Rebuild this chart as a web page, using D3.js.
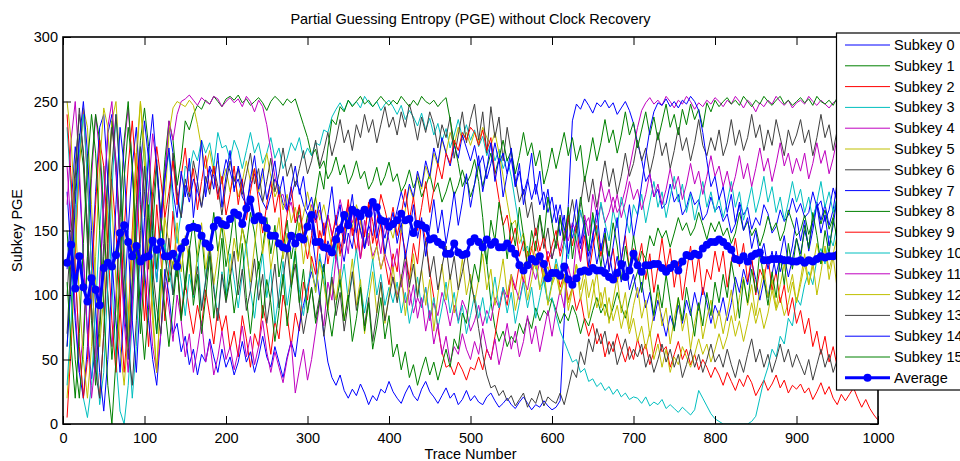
<!DOCTYPE html>
<html><head><meta charset="utf-8">
<script src="https://cdn.jsdelivr.net/npm/d3@7"></script>
<style>
html,body{margin:0;padding:0;background:#fff;}
svg{display:block;font-family:"Liberation Sans",Arial,Helvetica,sans-serif;}
</style></head><body>
<svg id="chart" width="960" height="461"></svg>
<script>
const titleText = "Partial Guessing Entropy (PGE) without Clock Recovery";
const xLabel = "Trace Number";
const yLabel = "Subkey PGE";
const xTicks = [0,100,200,300,400,500,600,700,800,900,1000];
const yTicks = [0,50,100,150,200,250,300];
const seriesNames = ["Subkey 0","Subkey 1","Subkey 2","Subkey 3","Subkey 4","Subkey 5","Subkey 6","Subkey 7","Subkey 8","Subkey 9","Subkey 10","Subkey 11","Subkey 12","Subkey 13","Subkey 14","Subkey 15"];
const seriesColors = ["#0000ff","#008000","#ff0000","#00bfbf","#bf00bf","#bfbf00","#404040","#0000ff","#008000","#ff0000","#00bfbf","#bf00bf","#bfbf00","#404040","#0000ff","#008000"];
const traceStep = 5;

const subkey0 = [120,170,215,190,130,70,35,60,110,170,225,240,195,140,90,50,95,150,200,235,
205,150,110,150,195,230,210,175,160,185,172,190,181,168,186,200,192,178,189,205,
196,183,190,176,170,185,194,180,172,166,178,190,184,171,165,176,188,182,170,162,
150,125,98,70,48,36,30,38,26,20,27,22,31,24,15,22,18,27,24,33,
25,20,16,24,30,22,18,27,33,25,21,16,22,28,20,24,15,19,26,18,
22,17,15,21,24,18,13,16,20,15,12,17,21,16,11,15,13,18,14,11,
13,18,80,170,235,248,244,252,247,241,249,246,251,245,249,240,245,250,243,233,
218,205,188,194,176,182,167,171,186,172,178,162,168,180,170,174,158,163,176,165,
169,157,163,148,155,172,162,168,151,160,154,170,163,148,153,166,157,162,175,164,
171,160,164,180,168,173,157,166,183,172,178,163,168,181,170,174,158,164,177,171];
const subkey1 = [60,120,180,225,200,140,80,30,70,130,190,235,205,150,100,60,110,170,220,245,
215,165,120,160,205,235,220,185,205,235,228,240,247,244,251,248,254,250,246,252,
254,251,255,249,252,247,250,253,249,243,250,254,251,247,252,249,252,242,232,222,
208,213,198,204,190,196,207,193,201,186,193,204,190,196,182,188,199,185,192,203,
188,194,180,186,197,183,191,176,184,194,180,187,172,180,191,177,185,197,186,193,
205,188,160,125,95,75,64,72,60,68,63,78,70,82,74,90,80,88,84,97,
88,78,86,80,92,84,70,82,76,88,98,86,93,81,90,102,91,82,96,108,
118,134,128,146,138,152,144,150,137,148,160,150,156,146,152,164,154,143,156,149,
157,146,152,140,148,164,150,157,146,152,138,148,161,150,156,142,150,166,156,146,
150,162,147,158,170,155,166,151,160,176,162,168,155,163,148,158,171,156,163,157];
const subkey2 = [5,60,130,200,245,190,120,60,20,70,140,190,150,90,40,80,150,210,170,110,
60,110,170,130,80,120,165,125,85,110,88,70,92,76,104,84,62,90,72,84,
58,72,52,84,66,44,70,60,92,76,54,80,66,100,84,60,86,72,110,96,
130,116,150,136,162,148,128,155,140,168,152,133,158,145,172,157,138,155,126,108,
132,118,150,134,112,140,124,158,142,118,98,74,56,44,46,38,48,42,34,44,
42,52,42,58,50,68,88,104,92,114,104,124,110,134,120,142,128,110,130,114,
124,106,116,96,106,88,98,80,68,78,62,70,52,64,56,70,58,48,60,50,
66,54,62,46,56,70,56,60,44,54,64,50,58,46,54,42,50,44,36,44,
38,30,40,33,26,35,29,38,32,22,28,34,26,31,38,28,34,24,30,27,
31,24,28,19,25,32,23,29,20,15,23,18,23,28,20,13,19,12,7,3];
const subkey3 = [230,180,120,60,20,5,30,90,150,200,170,110,50,10,0,30,80,140,190,215,
180,140,110,150,190,210,170,140,165,200,196,212,204,220,210,218,200,226,214,216,
205,220,212,198,212,226,210,218,202,210,222,206,214,198,206,218,212,222,206,214,
208,218,216,228,226,238,244,249,243,251,247,250,245,254,249,246,250,243,248,251,
246,240,247,236,243,238,231,241,228,237,224,233,219,229,214,224,236,222,232,220,
228,215,223,208,218,204,213,198,206,192,172,152,134,138,120,124,106,110,94,98,
84,72,64,56,48,50,40,43,33,35,29,32,26,29,23,27,21,24,19,21,
20,16,21,14,17,15,19,12,15,12,9,13,10,7,11,26,20,14,8,4,
2,0,0,0,0,0,0,0,2,6,20,34,44,58,52,68,62,82,76,98,
92,108,118,108,128,136,124,146,138,156,148,166,158,176,168,186,178,192,188,198];
const subkey4 = [200,150,90,40,70,130,190,240,210,150,100,60,100,160,215,245,200,140,90,130,
180,225,200,150,190,235,220,240,250,252,255,251,247,253,250,248,254,252,246,250,
253,249,252,246,254,250,242,251,246,232,212,192,176,178,164,172,156,162,146,158,
170,156,166,150,162,146,158,174,160,170,156,166,150,136,146,130,138,120,132,122,
112,100,112,94,104,86,98,90,106,80,94,84,102,92,76,92,80,96,88,72,
80,92,76,88,80,98,90,106,98,116,106,96,112,104,122,112,126,118,134,128,
142,134,150,142,156,148,164,154,160,146,158,170,156,164,176,164,170,182,198,214,
230,243,249,253,248,251,247,254,250,245,251,248,254,250,244,249,246,251,248,253,
250,246,251,248,254,250,245,251,248,242,249,246,251,248,254,250,247,251,245,249,
251,248,254,250,247,251,248,245,249,251,247,253,250,248,251,247,250,253,248,250];
const subkey5 = [20,70,140,200,245,230,170,110,60,100,170,235,250,200,140,80,130,200,250,215,
150,90,40,100,170,225,245,250,248,246,251,247,232,214,198,212,194,204,186,198,
180,192,176,188,204,188,198,180,192,210,192,176,184,166,178,156,168,150,162,180,
164,176,158,170,154,136,148,130,142,164,152,170,158,138,148,126,138,120,132,154,
144,160,148,166,184,174,194,182,200,190,210,200,220,210,226,216,230,220,226,216,
226,218,230,222,216,226,210,192,172,154,158,140,148,130,138,120,128,114,122,108,
116,100,112,94,106,124,104,120,98,112,90,102,84,98,80,92,74,88,70,82,
64,76,58,72,50,62,44,58,40,52,46,60,52,44,54,66,54,62,48,58,
70,58,68,84,68,80,64,78,94,78,90,74,86,104,88,98,84,94,110,94,
108,124,108,122,140,124,136,120,132,146,130,142,126,138,154,138,148,130,142,140];
const subkey6 = [100,150,200,240,210,150,90,40,80,140,190,230,200,140,100,60,110,170,215,180,
120,170,205,160,130,170,210,180,160,190,176,204,188,168,192,178,200,184,162,186,
204,188,198,178,194,210,186,198,172,188,206,180,194,214,192,202,184,198,212,194,
204,220,200,212,226,208,220,236,218,228,212,232,222,240,226,236,218,232,246,230,
238,224,242,230,248,236,220,238,226,242,232,214,232,222,238,206,224,242,218,236,
248,220,242,210,246,222,238,204,230,210,190,172,182,160,172,146,162,136,152,128,
142,162,140,156,174,154,170,192,172,190,168,186,204,184,198,178,192,210,192,202,
220,204,214,194,208,226,208,218,198,212,230,212,222,204,218,236,216,208,222,212,
228,208,218,236,216,228,212,222,240,222,232,212,228,216,236,222,208,228,216,224,
236,218,228,208,222,240,222,232,212,228,216,236,222,208,228,242,222,232,216,224];
const subkey7 = [180,130,80,40,20,60,120,180,230,240,190,130,80,40,90,150,200,230,180,120,
80,50,30,70,120,100,70,78,56,68,46,58,38,54,48,66,52,40,58,44,
52,38,48,64,48,56,40,52,68,52,44,60,48,36,52,64,52,76,92,106,
118,106,128,118,142,132,152,140,126,148,136,162,150,136,154,146,168,156,144,160,
152,166,180,168,186,176,196,184,204,192,214,202,222,210,200,216,206,224,214,204,
216,200,208,190,202,218,202,210,194,206,184,196,178,190,174,186,170,180,164,176,
156,170,150,162,144,156,136,150,130,146,124,140,120,134,114,130,110,126,104,116,
98,110,90,102,80,96,82,68,84,74,92,78,96,84,102,88,106,94,78,92,
84,98,80,94,114,102,120,108,126,112,96,112,98,116,134,118,130,114,128,144,
132,150,138,156,172,158,170,154,166,188,172,182,164,178,194,178,190,172,182,180];
const subkey8 = [150,100,50,20,60,130,200,240,220,160,100,50,90,160,220,250,200,140,90,50,
90,150,200,160,130,110,126,114,140,104,134,158,126,148,112,136,164,134,154,122,
140,166,128,152,138,164,148,120,136,160,132,154,114,134,158,128,146,168,144,162,
156,176,196,182,214,236,232,246,242,251,246,250,254,248,251,246,250,254,250,247,
251,248,254,250,246,251,247,254,250,248,251,246,250,253,236,218,202,184,192,176,
186,200,184,198,210,194,206,220,204,212,194,208,226,208,218,200,212,186,198,214,
198,212,226,208,222,204,216,188,204,222,204,218,236,218,228,210,224,242,224,234,
214,228,242,224,238,220,234,248,230,240,224,244,232,248,236,244,230,249,242,251,
246,250,253,248,251,247,254,250,246,251,248,254,250,247,251,254,248,251,247,250,
253,249,252,247,254,250,248,251,247,253,250,248,251,254,248,250,247,251,250,248];
const subkey9 = [240,190,120,60,20,50,110,170,220,200,140,80,40,90,150,200,235,190,130,80,
130,180,215,190,160,180,204,170,192,214,180,198,166,188,208,182,200,174,192,162,
178,200,170,190,158,180,198,172,148,170,188,164,180,140,162,184,156,170,146,128,
146,166,136,156,124,144,162,132,150,174,146,160,128,148,170,140,156,178,166,152,
168,146,162,182,158,176,150,168,188,164,182,202,190,210,202,220,212,226,220,230,
226,216,228,212,222,194,174,154,162,140,152,130,142,122,136,152,134,146,126,138,
150,130,142,162,138,154,126,146,116,136,154,130,146,120,136,110,128,146,120,136,
124,140,112,132,102,122,144,120,136,106,126,96,118,138,110,130,100,120,112,134,
118,134,106,126,144,122,140,110,130,100,120,112,130,104,118,94,108,84,98,78,
88,70,82,60,72,54,68,48,60,44,54,38,48,34,44,28,38,30,34,30];
const subkey10 = [30,80,150,210,240,190,120,60,15,40,110,180,240,200,130,70,20,60,140,200,
150,100,70,110,140,120,100,132,110,84,116,98,132,90,112,140,108,82,118,100,
132,112,90,116,140,104,82,110,132,98,120,78,100,126,92,112,136,104,84,106,
124,102,132,112,90,118,140,106,124,96,114,136,108,86,106,128,100,116,92,106,
94,110,86,102,78,94,114,90,106,82,98,74,90,110,86,102,78,92,70,84,
100,82,98,78,94,114,90,106,86,102,78,94,110,90,106,82,98,114,94,110,
128,114,142,128,152,140,166,150,136,160,146,172,156,142,166,152,176,162,148,170,
162,178,156,172,188,168,180,160,176,192,172,186,164,178,158,172,188,168,180,164,
176,160,172,188,168,180,158,170,184,164,176,192,172,184,164,176,158,172,188,172,
182,164,176,158,172,188,168,180,164,176,192,172,186,168,180,162,174,190,172,186];
const subkey11 = [170,220,250,200,130,70,20,50,110,170,230,250,200,140,80,40,90,150,210,160,
100,60,40,70,110,90,64,100,80,52,70,40,58,80,48,64,38,52,72,50,
60,42,56,76,52,68,46,60,80,56,40,56,44,32,50,64,24,42,58,34,
50,72,94,76,110,96,130,112,150,132,166,148,128,158,138,172,152,132,156,142,
120,136,106,126,92,108,82,98,72,88,62,78,54,68,48,60,54,70,58,50,
64,54,74,58,50,66,46,60,78,58,72,52,64,84,62,76,56,72,88,68,
88,104,90,122,108,142,126,162,146,178,162,188,172,182,164,178,160,172,188,174,
182,166,178,194,176,186,170,182,198,182,192,174,186,202,186,196,178,192,208,192,
200,184,196,180,192,208,190,202,184,198,214,196,206,188,202,218,200,210,194,206,
196,210,190,202,218,202,212,194,206,222,204,216,198,212,228,210,220,202,216,214];
const subkey12 = [250,220,160,100,50,20,60,130,200,245,230,170,110,60,30,70,140,210,250,200,
140,80,40,100,160,140,120,156,118,146,124,100,132,156,120,140,108,130,160,140,
116,144,126,152,134,110,138,164,132,154,120,140,160,128,148,108,132,156,124,146,
122,102,126,108,88,112,96,120,80,102,128,92,112,70,96,118,86,108,78,100,
122,96,116,84,108,132,100,120,92,112,72,100,124,96,116,86,104,128,100,116,
94,112,132,104,120,92,108,128,100,116,88,104,124,96,112,132,104,120,92,108,
124,100,116,88,104,124,96,112,82,100,118,90,106,78,96,114,86,102,74,92,
106,82,96,68,86,102,76,90,62,82,98,72,86,58,78,94,66,82,96,74,
88,70,86,104,80,98,114,92,108,84,104,120,98,112,90,108,124,102,116,94,
112,132,108,126,100,118,138,112,130,104,122,142,116,134,108,126,148,122,140,126];
const subkey13 = [70,130,190,245,210,150,90,40,20,70,140,200,240,190,120,60,30,80,150,200,
160,120,90,70,110,144,100,126,82,112,138,100,122,88,110,134,104,80,116,94,
112,134,100,120,88,104,128,96,116,78,100,124,90,112,136,106,124,94,70,88,
106,82,100,68,92,114,84,102,72,94,118,88,106,76,98,64,86,110,80,98,
114,94,112,132,106,124,98,120,142,114,130,104,122,138,112,130,104,118,134,110,
96,74,54,38,28,30,22,26,18,22,14,19,24,13,20,16,26,14,21,18,
16,24,15,28,42,36,56,46,66,56,74,62,72,54,64,46,56,66,50,58,
52,62,44,54,40,50,62,48,58,44,54,36,46,58,44,54,40,50,62,48,
54,44,58,46,36,50,40,54,66,48,58,44,54,40,50,62,48,58,44,54,
46,38,50,34,46,58,44,54,40,50,34,46,58,44,54,38,46,34,42,36];
const subkey14 = [60,110,170,220,250,210,150,90,40,10,50,110,170,230,200,140,80,40,100,160,
210,240,200,160,190,214,180,160,196,176,206,160,188,220,176,198,182,210,168,192,
212,180,200,186,166,190,208,182,198,174,188,204,178,192,166,184,200,178,192,166,
176,158,172,146,162,184,154,170,140,158,178,148,166,136,154,174,144,162,132,150,
164,140,156,128,148,170,144,160,130,152,174,148,166,140,158,180,154,172,194,168,
186,208,180,198,218,188,206,176,194,214,184,202,170,188,210,178,196,166,182,156,
170,146,162,132,152,174,140,158,122,144,166,134,152,118,138,160,126,148,170,144,
162,186,208,228,242,249,247,252,246,250,245,251,248,254,250,243,226,204,184,192,
174,184,164,178,156,170,150,160,136,150,130,140,120,134,116,130,146,124,138,160,
142,158,134,150,170,148,162,138,154,176,152,166,142,158,180,156,172,148,164,152];
const subkey15 = [110,60,20,70,140,200,240,210,150,90,30,0,50,120,190,230,200,130,70,120,
170,110,70,120,90,60,92,124,80,108,136,92,116,70,98,130,82,112,144,96,
116,86,108,140,98,70,100,126,82,112,94,64,88,116,76,104,134,94,120,86,
106,78,96,124,88,68,92,112,80,100,64,82,106,72,94,58,76,98,66,84,
52,62,42,56,36,46,30,42,52,38,48,34,46,58,44,66,58,86,78,104,
124,110,142,124,158,142,172,154,128,156,138,168,146,122,150,134,162,144,176,156,
136,160,142,168,128,150,176,154,134,164,146,122,148,130,156,138,112,138,120,146,
126,102,128,106,84,108,90,116,94,72,98,80,106,88,68,94,76,102,84,110,
94,116,98,126,108,82,112,94,120,102,134,112,92,118,98,130,108,140,120,144,
128,154,136,164,146,124,150,132,160,142,170,150,130,156,138,166,148,174,156,162];
const averagePGE = [125,139,105,130,106,95,113,104,92,121,125,122,131,148,154,141,130,138,126,129,
130,142,135,141,130,130,132,122,136,141,152,153,152,146,140,137,153,158,155,154,
159,164,162,155,167,174,158,161,158,152,146,146,140,137,136,146,140,145,143,153,
162,141,141,137,136,133,143,151,162,154,166,164,161,166,163,172,168,158,157,153,
155,158,163,158,159,148,155,154,152,143,144,141,139,132,132,140,133,131,132,141,
144,141,137,143,139,141,137,137,140,136,132,123,119,123,128,126,130,124,113,117,
117,115,122,112,108,113,118,119,118,121,119,119,117,114,112,117,124,114,119,132,
123,118,123,123,124,124,121,118,121,124,119,126,131,130,132,131,136,139,141,141,
143,141,138,135,128,127,130,126,130,132,133,127,127,128,128,128,127,127,126,126,
127,125,127,126,128,130,129,130,130,131,130,131,130,131,132,131,130,131,132,131];

const subkeys = [subkey0,subkey1,subkey2,subkey3,subkey4,subkey5,subkey6,subkey7,subkey8,subkey9,subkey10,subkey11,subkey12,subkey13,subkey14,subkey15];

const svg = d3.select("#chart");
const L = 63, R = 878, T = 37, B = 424;
const x = d3.scaleLinear().domain([0,1000]).range([L,R]);
const y = d3.scaleLinear().domain([0,300]).range([B,T]);
const fs = 14.5;

svg.append("defs").append("clipPath").attr("id","plotclip")
  .append("rect").attr("x",L).attr("y",T).attr("width",R-L).attr("height",B-T);

const line = d3.line().x((d,i)=>x(traceStep*(i+1))).y(d=>y(d));
const g = svg.append("g").attr("clip-path","url(#plotclip)");
subkeys.forEach((s,k)=>{
  g.append("path").datum(s).attr("d",line).attr("fill","none")
    .attr("stroke",seriesColors[k]).attr("stroke-width",1).attr("stroke-linejoin","round");
});
g.append("path").datum(averagePGE).attr("d",line).attr("fill","none")
  .attr("stroke","#0000ff").attr("stroke-width",3).attr("stroke-linejoin","round");
g.selectAll("circle.avg").data(averagePGE).enter().append("circle").attr("class","avg")
  .attr("cx",(d,i)=>x(traceStep*(i+1))).attr("cy",d=>y(d)).attr("r",4).attr("fill","#0000ff");

// axes
const axB = svg.append("g").attr("transform",`translate(0,${B})`)
  .call(d3.axisBottom(x).tickValues(xTicks).tickFormat(d3.format("d")).tickSizeInner(-8).tickSizeOuter(0).tickPadding(9));
const axL = svg.append("g").attr("transform",`translate(${L},0)`)
  .call(d3.axisLeft(y).tickValues(yTicks).tickFormat(d3.format("d")).tickSizeInner(-8).tickSizeOuter(0).tickPadding(5));
const axT = svg.append("g").attr("transform",`translate(0,${T})`)
  .call(d3.axisTop(x).tickValues(xTicks).tickFormat("").tickSizeInner(-8).tickSizeOuter(0));
const axR = svg.append("g").attr("transform",`translate(${R},0)`)
  .call(d3.axisRight(y).tickValues(yTicks).tickFormat("").tickSizeInner(-8).tickSizeOuter(0));
[axB,axL,axT,axR].forEach(a=>{
  a.select(".domain").remove();
  a.selectAll("line").attr("stroke","#000").attr("stroke-width",1);
  a.selectAll("text").attr("font-size",fs).attr("fill","#000").attr("font-family",'"Liberation Sans",Arial,sans-serif');
});
svg.append("rect").attr("x",L).attr("y",T).attr("width",R-L).attr("height",B-T)
  .attr("fill","none").attr("stroke","#000").attr("stroke-width",1.6);

svg.append("text").attr("x",(L+R)/2).attr("y",24).attr("text-anchor","middle")
  .attr("font-size",fs).text(titleText);
svg.append("text").attr("x",(L+R)/2).attr("y",459).attr("text-anchor","middle")
  .attr("font-size",fs).text(xLabel);
svg.append("text").attr("transform",`translate(22,${(T+B)/2}) rotate(-90)`).attr("text-anchor","middle")
  .attr("font-size",fs).text(yLabel);

// legend
const lg = svg.append("g");
const lx = 836.5, ly = 33, step = 20.8;
const names = seriesNames.concat(["Average"]);
lg.append("rect").attr("x",lx).attr("y",ly).attr("width",200).attr("height",357)
  .attr("fill","#fff").attr("stroke","#000").attr("stroke-width",1.2);
names.forEach((n,i)=>{
  const cy = 45 + step*i;
  const isAvg = i===16;
  lg.append("line").attr("x1",845).attr("x2",890).attr("y1",cy).attr("y2",cy)
    .attr("stroke",isAvg?"#0000ff":seriesColors[i]).attr("stroke-width",isAvg?3:1);
  if(isAvg) lg.append("circle").attr("cx",867.5).attr("cy",cy).attr("r",4).attr("fill","#0000ff");
  lg.append("text").attr("x",894).attr("y",cy+5).attr("font-size",fs).text(n);
});
</script>
</body></html>
